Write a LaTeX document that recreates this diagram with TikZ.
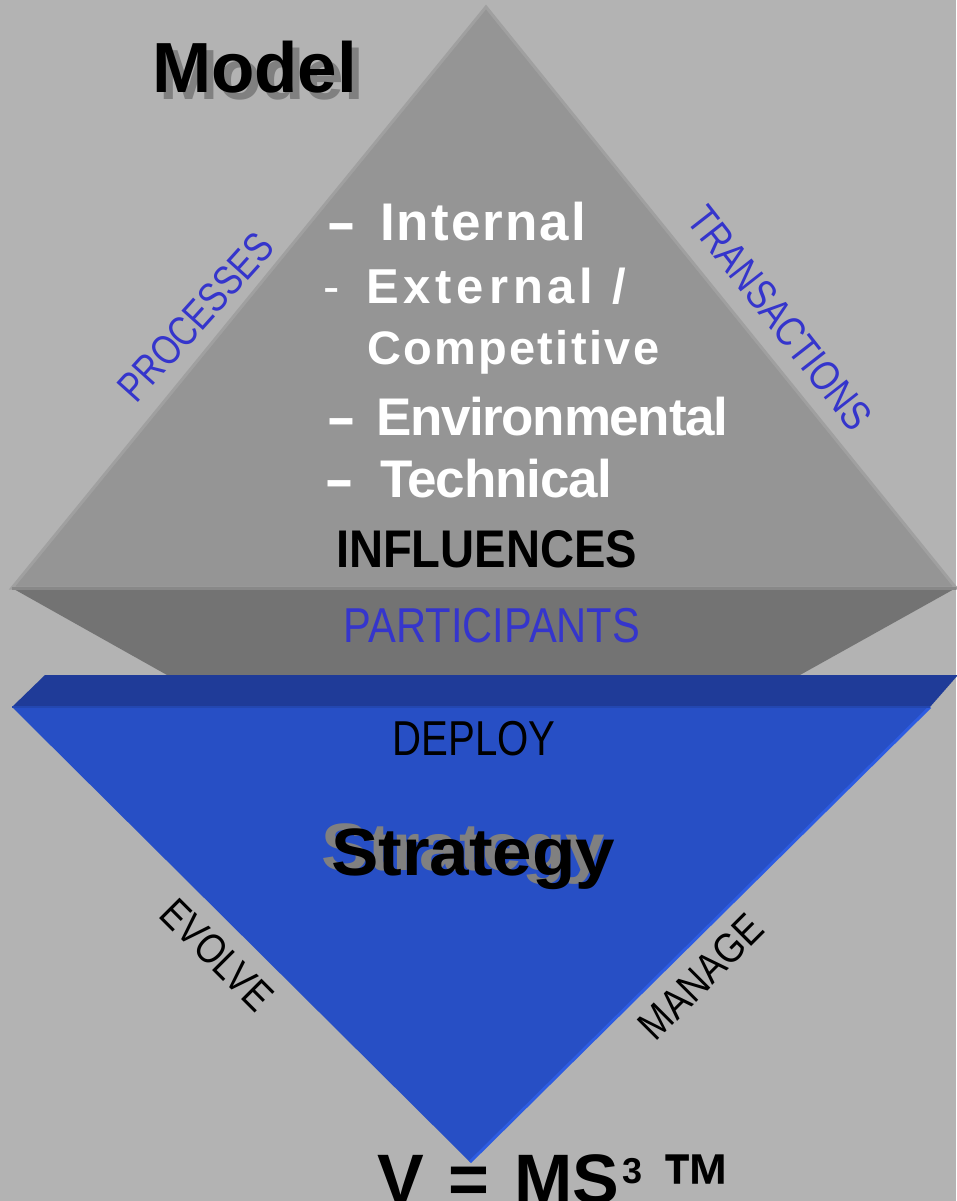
\documentclass[tikz,border=0pt]{standalone}
\usepackage{fontspec}
\setmainfont{Liberation Sans}
\usepackage{graphicx}
\definecolor{bgc}{HTML}{B3B3B3}
\definecolor{trif}{HTML}{959595}
\definecolor{triedge}{HTML}{A0A0A0}
\definecolor{baseln}{HTML}{888888}
\definecolor{band}{HTML}{737373}
\definecolor{bluebandc}{HTML}{1F3B98}
\definecolor{bluetri}{HTML}{274FC5}
\definecolor{blueedge}{HTML}{2D5CE2}
\definecolor{lblue}{HTML}{3535CC}
\definecolor{shadowc}{HTML}{808080}
\newcommand\fsz[1]{\fontsize{#1}{#1}\selectfont}
\newcommand\sx[2]{\scalebox{#1}[1]{#2}}
\newcommand\lsp[1]{\addfontfeatures{LetterSpace=#1}}
\begin{document}
\begin{tikzpicture}[x=1pt,y=-1pt,
  txt/.style={inner sep=0pt, outer sep=0pt},
  wt/.style={txt, anchor=base west, text=white},
  lbl/.style={txt, text=lblue, font=\fsz{42}},
  blk/.style={txt, text=black, font=\fsz{42}}]
\useasboundingbox (0,0) rectangle (956,1201);
\fill[bgc] (0,0) rectangle (956,1201);
% coordinates
\coordinate (apex) at (486,7);
\coordinate (bl) at (12,588);
\coordinate (br) at (956,588);
\coordinate (gbl) at (167,675);
\coordinate (gbr) at (800,675);
\coordinate (btl) at (45,675);
\coordinate (btr) at (958,675);
\coordinate (bbr) at (930,707);
\coordinate (bbl) at (12,707);
\coordinate (bapex) at (470,1162);
% gray pyramid
\fill[band] (bl) -- (br) -- (gbr) -- (gbl) -- cycle;
\fill[trif, draw=triedge, line width=3pt, line join=miter] (apex) -- (bl) -- (br) -- cycle;
\draw[baseln, line width=3pt] (bl) -- (br);
% blue band and triangle
\fill[bluebandc] (btl) -- (btr) -- (bbr) -- (bbl) -- cycle;
\fill[bluetri] (bbl) -- (bbr) -- (bapex) -- cycle;
\draw[blueedge, line width=3pt] (bbr) -- (bapex);
\draw[bluetri!90!black, line width=2pt] (bbl) -- (bbr);
% titles with shadows
\node[txt, anchor=base west, text=shadowc, font=\fsz{71}\bfseries] (models) at (159,100) {Model};
\node[txt, anchor=base west, text=black, font=\fsz{71}\bfseries] (model) at (152,93) {Model};
\node[txt, anchor=base west, text=shadowc, font=\fsz{67}\bfseries] (strats) at (321,870) {\sx{1.06}{Strategy}};
\node[txt, anchor=base west, text=black, font=\fsz{67}\bfseries] (strat) at (331,875) {\sx{1.06}{Strategy}};
% influences list
\node[wt, font=\fsz{53}\bfseries] (d1) at (326,240) {\sx{1.7}{-}};
\node[wt, font=\fsz{53}\bfseries] (l1) at (380,240) {\lsp{4}Internal};
\node[wt, font=\fsz{49}] (d2) at (323,303) {-};
\node[wt, font=\fsz{49}\bfseries] (l2) at (366,303) {\lsp{10}External /};
\node[wt, font=\fsz{47}\bfseries] (l3) at (367,364) {\lsp{5}Competitive};
\node[wt, font=\fsz{53}\bfseries] (d4) at (326,435) {\sx{1.7}{-}};
\node[wt, font=\fsz{53}\bfseries] (l4) at (376,435) {\lsp{-2.5}Environmental};
\node[wt, font=\fsz{53}\bfseries] (d5) at (324,497) {\sx{1.7}{-}};
\node[wt, font=\fsz{53}\bfseries] (l5) at (380,497) {\lsp{-2}Technical};
\node[txt, anchor=base west, font=\fsz{53}\bfseries] (infl) at (336,567) {\sx{0.89}{INFLUENCES}};
% edge labels
\node[lbl, rotate=48] (proc) at (196,317) {\sx{0.8}{PROCESSES}};
\node[lbl, rotate=-52] (trans) at (780,318) {\sx{0.82}{TRANSACTIONS}};
\node[txt, text=lblue, font=\fsz{49}, anchor=base] (part) at (492,642) {\sx{0.85}{PARTICIPANTS}};
\node[txt, text=black, font=\fsz{49}, anchor=base] (deploy) at (474,755) {\sx{0.82}{DEPLOY}};
\node[blk, rotate=-45] (evolve) at (217,955) {\sx{0.84}{EVOLVE}};
\node[blk, rotate=45] (manage) at (701,977) {\sx{0.86}{MANAGE}};
% formula
\node[txt, anchor=base west, font=\fsz{70}\bfseries] (fv) at (377,1203) {V};
\node[txt, anchor=base, font=\fsz{70}\bfseries] (feq) at (469,1203) {=};
\node[txt, anchor=base west, font=\fsz{70}\bfseries] (fms) at (514,1203) {MS};
\node[txt, anchor=base west, font=\fsz{36}\bfseries] (f3) at (622,1183) {3};
\node[txt, anchor=base west, font=\fsz{94}\bfseries] (ftm) at (661,1219) {\sx{0.76}{™}};
\end{tikzpicture}
\end{document}
